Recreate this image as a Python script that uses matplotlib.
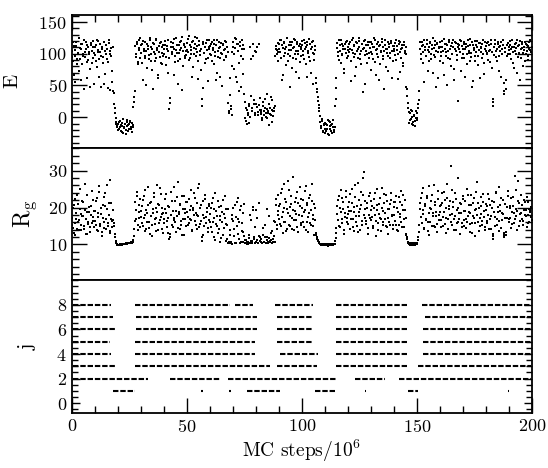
import numpy as np
import matplotlib
matplotlib.use('Agg')
import matplotlib.pyplot as plt
from matplotlib.ticker import MultipleLocator, FixedLocator

plt.rcParams['font.family'] = ['cmr10', 'DejaVu Serif']
plt.rcParams['mathtext.fontset'] = 'cm'
plt.rcParams['axes.formatter.use_mathtext'] = True

# sampling step of the trajectory (MC steps / 10^6); the "b" lists are
# the samples lying half a step after the "a" lists
dt = 0.4

# energy E, one row = 10 units of MC time
E_a = [
    104, 88, 112, 97, 56, 118, 92, 101, 73, 109, 115, 84, 99, 121, 95, 107, 62, 113, 90, 102, 48, 117, 86, 110, 52,
    98, 114, 79, 106, 120, 91, 103, 47, 111, 95, 118, 68, 100, 108, 87, 122, 43, 105, 96, 55, 42, 21, 6, -7, -13,
    -10, -18, -6, -22, -14, -9, -25, -16, -11, -20, -4, -13, -19, -8, -15, -24, -12, 16, 32, 112, 95, 118, 83, 106, 124,
    101, 116, 58, 108, 93, 119, 104, 77, 112, 98, 121, 89, 107, 45, 115, 100, 94, 123, 109, 66, 103, 117, 85, 111, 96,
    108, 120, 95, 112, 70, 104, 13, 31, 118, 99, 110, 123, 87, 106, 114, 52, 101, 119, 92, 109, 126, 81, 113, 97, 105,
    117, 102, 128, 94, 111, 106, 63, 120, 99, 115, 108, 125, 88, 113, 104, 74, 17, 46, 119, 101, 110, 92, 122, 57, 107,
    112, 98, 119, 106, 84, 115, 103, 59, 121, 95, 109, 64, 117, 100, 113, 90, 108, 118, 97, 111, 22, 6, 61, 13, 102,
    118, 76, 109, 123, 55, 104, 115, 42, 112, 96, 121, 68, 107, 24, -6, 11, 3, -9, 18, 110, 33, 9, 96, 21, 4,
    102, 16, 8, 116, 31, 5, 12, -2, 24, 9, 14, 1, 37, 7, -13, 15, 4, 11, 27, 2, 10, 96, 112, 106, 89,
    115, 103, 121, 58, 109, 97, 118, 107, 82, 124, 100, 113, 47, 106, 119, 94, 110, 122, 71, 104, 116, 99, 112, 87, 108,
    120, 105, 92, 117, 110, 64, 114, 101, 123, 88, 108, 118, 53, 99, 112, 61, 44, 32, 19, 9, -8, -17, -3, -22, -12,
    -25, -10, -19, -5, -28, -14, -7, -21, -11, -16, -24, 17, 46, 109, 96, 121, 104, 85, 116, 100, 112, 69, 107, 119, 93,
    111, 102, 118, 57, 106, 124, 95, 113, 100, 79, 117, 108, 120, 91, 104, 115, 40, 109, 98, 122, 105, 86, 114, 101, 119,
    103, 116, 92, 110, 121, 67, 107, 99, 118, 112, 84, 105, 123, 96, 45, 114, 108, 101, 119, 73, 110, 94, 117, 104, 88,
    112, 98, 121, 106, 60, 115, 102, 118, 94, 109, 81, 113, 105, 99, 44, 23, 8, -4, 12, -11, 1, -7, 4, -14, -1,
    6, 15, 27, 108, 92, 119, 103, 114, 56, 111, 97, 122, 106, 88, 117, 100, 113, 70, 109, 120, 95, 105, 116, 62, 110,
    118, 102, 111, 85, 123, 107, 96, 115, 50, 104, 119, 91, 112, 100, 121, 76, 108, 117, 98, 110, 26, 113, 103, 120, 94,
    107, 116, 64, 111, 99, 122, 105, 88, 114, 101, 118, 57, 109, 96, 113, 120, 82, 106, 117, 103, 110, 93, 121, 68, 108,
    112, 99, 118, 104, 87, 115, 102, 18, 29, 110, 121, 95, 108, 116, 73, 105, 119, 100, 113, 54, 36, 109, 44, 97, 117,
    106, 120, 92, 111, 103, 78, 116, 100, 109, 122, 95, 113, 59, 107, 118, 101, 110, 88, 115, 104, 112, 97, 119, 106, 102,
]
E_b = [
    95, 118, 67, 106, 112, 83, 100, 124, 91, 58, 108, 116, 97, 44, 103, 119, 87, 111, 99, 76, 114, 105, 93, 120, 101,
    110, 89, 121, 102, 64, 116, 96, 107, 85, 119, 53, 104, 113, 92, 46, 117, 100, 109, 72, 111, 38, 14, -2, -11, -16,
    -20, -7, -15, -12, -23, -3, -17, -10, -26, -14, -8, -21, -11, -6, -18, -9, -15, 24, 41, 99, 116, 87, 109, 121, 94,
    113, 86, 120, 104, 97, 51, 115, 108, 92, 125, 99, 110, 74, 117, 103, 88, 122, 106, 61, 112, 95, 119, 101, 83, 114,
    99, 114, 82, 107, 121, 94, 22, 110, 103, 117, 66, 108, 96, 125, 101, 89, 113, 106, 120, 43, 104, 116, 93, 111, 98,
    106, 123, 90, 114, 100, 118, 79, 109, 127, 96, 112, 103, 60, 120, 98, 108, 28, 115, 101, 85, 117, 106, 94, 121, 110,
    100, 116, 88, 109, 122, 97, 113, 70, 104, 118, 93, 111, 101, 49, 115, 106, 120, 95, 110, 103, 9, 35, 17, 80, 3,
    111, 99, 124, 63, 116, 105, 85, 119, 48, 108, 114, 91, 36, -2, 15, -10, 7, 20, 1, 92, 14, 116, 27, 6, 104,
    21, 110, 3, 19, 12, 8, -5, 17, 3, 29, 6, 13, -1, 10, 21, 5, 32, -8, 9, 14, 18, 108, 99, 117, 103,
    108, 121, 94, 113, 66, 117, 101, 110, 125, 89, 106, 119, 97, 114, 78, 109, 123, 100, 92, 118, 105, 61, 115, 111, 96,
    113, 98, 122, 107, 84, 118, 104, 95, 116, 70, 111, 101, 120, 90, 106, 54, 39, 25, 14, 2, -14, -6, -24, -11, -19,
    -9, -22, -13, -27, -6, -18, -12, -25, -4, -20, -15, 29, 62, 117, 103, 90, 113, 122, 98, 108, 76, 115, 101, 120, 106,
    97, 115, 108, 88, 121, 101, 112, 65, 118, 105, 94, 124, 110, 99, 83, 116, 107, 120, 52, 113, 100, 118, 93, 109, 74,
    118, 100, 111, 124, 87, 106, 116, 95, 58, 113, 102, 119, 91, 110, 105, 122, 79, 108, 97, 115, 101, 120, 62, 112, 107,
    104, 117, 90, 112, 99, 120, 71, 108, 114, 86, 118, 101, 110, 48, 34, 14, -9, 6, -3, 10, -12, 2, -6, 9, -2,
    -4, 20, 41, 118, 100, 112, 85, 121, 106, 96, 116, 73, 110, 103, 119, 91, 107, 124, 98, 113, 48, 117, 102, 109, 89,
    111, 97, 120, 105, 66, 116, 102, 113, 93, 122, 108, 81, 117, 99, 110, 58, 119, 104, 90, 115, 107, 121, 72, 112, 100,
    119, 93, 108, 116, 84, 112, 101, 123, 95, 47, 114, 106, 89, 120, 103, 110, 97, 117, 61, 109, 115, 100, 86, 118, 105,
    101, 117, 90, 113, 106, 121, 77, 24, 98, 115, 104, 88, 119, 110, 96, 112, 64, 108, 122, 41, 102, 58, 114, 99, 111,
    114, 99, 108, 121, 86, 110, 104, 117, 69, 112, 101, 120, 94, 109, 115, 80, 106, 118, 100, 113, 90, 107, 121, 103, 111,
]

# radius of gyration, same sampling
Rg_a = [
    17.2, 14.5, 20.8, 15.9, 12.6, 18.4, 23.5, 16.1, 13.8, 19.7, 15.2, 21.9, 17.6, 14.1, 26.3, 16.8, 12.9, 18.9, 15.5, 20.2, 13.4, 17.9, 24.6, 16.4, 14.8,
    19.1, 15.3, 22.7, 13.6, 17.4, 25.8, 14.9, 18.2, 12.4, 20.6, 16.0, 23.9, 14.3, 19.5, 15.8, 21.3, 27.4, 13.1, 17.0, 14.6, 16.5, 15.7, 12.0, 10.5, 10.2,
    9.8, 9.9, 9.8, 10.0, 9.9, 10.1, 10.0, 10.2, 10.1, 10.3, 10.2, 10.4, 10.3, 10.5, 10.4, 10.6, 10.7, 11.3, 14.2, 21.5, 16.8, 24.1, 13.9, 18.7, 22.4,
    17.5, 20.3, 15.1, 23.2, 18.0, 13.7, 19.4, 16.2, 25.6, 14.4, 21.1, 17.8, 12.3, 18.6, 22.9, 15.6, 19.9, 17.1, 26.1, 14.0, 20.7, 16.6, 23.6, 18.3, 13.2,
    16.9, 22.2, 18.5, 14.7, 20.4, 17.3, 11.4, 12.8, 24.3, 15.4, 19.0, 16.5, 21.7, 13.5, 17.7, 26.8, 18.8, 14.2, 20.9, 16.3, 23.0, 17.0, 12.7, 19.6, 15.0,
    21.4, 17.4, 15.7, 19.3, 24.8, 16.7, 13.9, 20.0, 18.1, 22.6, 15.3, 17.9, 25.2, 14.6, 19.8, 16.4, 11.0, 12.5, 21.8, 17.2, 23.4, 15.9, 18.7, 13.3, 20.5,
    18.2, 14.8, 21.2, 16.0, 12.1, 19.5, 23.8, 15.5, 17.6, 13.0, 20.1, 16.6, 11.8, 18.9, 22.0, 14.5, 17.1, 10.9, 19.7, 15.2, 10.5, 10.3, 14.0, 10.8, 18.0,
    16.3, 12.2, 20.6, 10.4, 14.9, 22.5, 17.0, 11.6, 19.2, 10.7, 15.8, 13.4, 21.0, 11.2, 10.3, 10.6, 10.2, 11.8, 10.4, 18.1, 11.0, 10.4, 20.1, 12.1, 10.5,
    19.3, 11.1, 10.5, 21.2, 12.0, 10.6, 11.5, 10.3, 12.7, 10.8, 15.4, 10.4, 11.9, 10.6, 17.8, 10.9, 11.3, 10.5, 13.6, 10.7, 12.2, 16.1, 22.3, 14.2, 19.0,
    20.4, 15.6, 23.9, 17.5, 13.2, 19.8, 26.4, 16.2, 21.5, 14.3, 18.6, 24.7, 15.0, 20.9, 17.3, 28.2, 13.8, 19.1, 22.6, 16.7, 14.7, 21.3, 18.0, 25.5, 15.9,
    17.8, 22.1, 14.6, 19.4, 25.9, 16.1, 20.7, 13.4, 18.4, 23.3, 15.3, 21.8, 17.0, 12.6, 19.9, 13.1, 12.0, 11.2, 10.6, 10.3, 10.0, 9.9, 10.1, 9.8, 10.0,
    9.9, 9.8, 10.0, 9.7, 9.9, 10.1, 9.8, 10.0, 10.2, 9.9, 10.1, 11.0, 13.1, 20.3, 16.5, 23.1, 14.8, 18.9, 22.7, 15.7, 19.6, 12.8, 17.4, 24.4, 16.0,
    18.3, 21.6, 14.2, 19.0, 25.1, 16.9, 20.2, 13.6, 22.8, 17.6, 15.1, 26.7, 18.8, 14.0, 20.8, 16.3, 23.5, 29.7, 17.2, 19.7, 15.5, 21.1, 12.9, 18.1, 24.0,
    16.6, 20.5, 14.4, 22.3, 17.9, 12.4, 19.3, 24.9, 15.8, 21.0, 17.1, 13.7, 20.0, 16.2, 23.7, 18.5, 14.9, 21.7, 17.3, 12.8, 19.5, 15.4, 22.0, 18.0, 14.1,
    20.1, 16.4, 23.2, 13.9, 18.7, 15.2, 21.4, 17.5, 24.6, 14.6, 19.2, 16.8, 22.1, 12.7, 12.1, 10.8, 10.1, 9.9, 10.2, 10.0, 10.3, 9.9, 10.1, 10.4, 10.0,
    10.2, 11.1, 13.3, 19.6, 22.7, 15.9, 18.2, 25.3, 14.3, 20.4, 17.0, 23.0, 16.1, 12.6, 19.9, 21.9, 15.0, 18.6, 26.2, 14.7, 20.8, 17.7, 13.5, 22.4, 16.5,
    18.9, 14.8, 21.2, 17.4, 24.1, 15.6, 19.8, 13.0, 22.5, 16.9, 20.3, 18.1, 31.3, 15.3, 21.6, 17.0, 23.8, 14.0, 19.4, 16.2, 28.0, 18.5, 12.9, 20.9, 15.8,
    22.2, 16.7, 19.1, 14.5, 25.0, 17.8, 20.6, 13.4, 18.4, 23.4, 15.7, 21.3, 17.2, 12.3, 19.7, 26.9, 16.0, 20.0, 14.9, 22.9, 18.2, 15.4, 21.5, 17.5, 13.8,
    19.3, 16.3, 23.6, 14.2, 20.7, 17.6, 21.8, 11.6, 12.9, 18.8, 15.1, 24.3, 17.0, 20.2, 13.7, 19.0, 22.6, 16.6, 18.3, 12.6, 11.9, 21.0, 13.4, 17.3, 23.1,
    16.8, 20.5, 14.4, 18.9, 22.8, 15.9, 28.6, 17.7, 19.6, 13.9, 27.3, 21.1, 16.4, 18.6, 20.8, 15.2, 22.1, 17.9, 19.4, 14.8, 18.0, 21.6, 16.1, 19.2, 17.4,
]
Rg_b = [
    15.4, 19.8, 13.2, 22.4, 17.0, 14.2, 20.9, 16.6, 25.1, 18.3, 13.9, 17.7, 21.4, 15.0, 19.2, 12.8, 23.3, 16.2, 18.7, 14.7, 20.5, 15.8, 17.4, 22.0, 19.0,
    16.3, 21.7, 14.0, 18.6, 24.3, 15.6, 19.9, 13.3, 17.1, 22.9, 14.5, 20.3, 16.9, 26.0, 15.1, 18.0, 13.7, 21.2, 16.4, 19.4, 15.0, 12.8, 11.0, 10.3, 9.9,
    9.9, 9.8, 10.0, 9.9, 10.1, 10.0, 10.1, 10.2, 10.0, 10.3, 10.2, 10.3, 10.5, 10.4, 10.6, 10.5, 10.8, 12.2, 16.4, 19.3, 23.2, 15.4, 20.6, 17.3, 14.6,
    19.1, 15.7, 22.0, 17.2, 24.7, 14.1, 18.4, 20.8, 16.0, 12.9, 21.6, 17.6, 15.2, 19.6, 23.8, 16.8, 13.6, 18.9, 21.0, 15.9, 25.2, 17.4, 14.3, 20.0, 18.6,
    15.8, 19.5, 23.7, 16.4, 13.1, 20.2, 12.0, 18.0, 21.9, 14.8, 17.3, 25.6, 16.1, 19.0, 22.8, 14.4, 18.2, 20.6, 15.3, 12.5, 19.7, 23.1, 16.8, 18.4, 21.5,
    18.9, 15.2, 22.4, 17.0, 20.3, 13.6, 19.4, 24.0, 16.3, 18.5, 21.2, 14.1, 17.8, 26.5, 15.5, 20.6, 12.1, 18.1, 15.0, 22.2, 17.5, 19.8, 14.4, 21.0, 16.7,
    16.0, 20.0, 13.5, 22.6, 17.3, 11.2, 19.1, 15.0, 21.7, 14.2, 17.8, 10.6, 20.4, 16.2, 12.7, 18.3, 23.0, 15.6, 11.5, 19.5, 10.6, 12.5, 10.4, 16.8, 10.2,
    19.8, 14.1, 10.5, 17.5, 21.6, 12.9, 16.0, 10.3, 20.3, 13.7, 18.4, 10.8, 12.4, 10.4, 11.3, 10.2, 10.7, 12.6, 10.3, 16.6, 10.9, 19.4, 11.4, 10.3, 14.8,
    10.6, 17.2, 10.4, 12.3, 10.9, 11.6, 10.3, 14.5, 10.7, 12.1, 10.5, 11.2, 19.6, 10.4, 11.7, 10.8, 13.0, 10.3, 11.4, 16.3, 10.6, 20.8, 15.2, 18.1, 23.5,
    17.0, 21.0, 14.9, 25.0, 18.8, 16.0, 22.2, 13.6, 19.5, 27.1, 15.3, 20.1, 17.7, 23.2, 14.1, 19.2, 16.5, 21.6, 18.3, 24.2, 13.3, 17.9, 20.5, 15.4, 22.4,
    20.0, 16.2, 18.9, 24.5, 14.0, 21.2, 17.4, 22.7, 15.7, 19.3, 26.3, 14.9, 18.1, 21.0, 16.6, 12.6, 11.6, 10.9, 10.4, 10.1, 9.9, 10.0, 9.8, 10.1, 9.9,
    10.0, 9.8, 9.9, 10.1, 9.8, 10.0, 9.9, 10.1, 9.8, 10.0, 10.2, 11.8, 14.5, 18.2, 22.0, 15.1, 19.9, 24.8, 16.9, 21.4, 14.0, 18.6, 22.9, 17.1, 20.2,
    15.6, 19.1, 23.6, 17.0, 21.3, 14.6, 18.7, 26.0, 16.1, 20.4, 13.4, 22.1, 17.8, 19.6, 24.3, 15.3, 27.9, 18.0, 21.9, 16.4, 20.0, 14.4, 23.0, 17.3, 19.2,
    21.8, 17.4, 15.0, 19.8, 23.9, 16.3, 20.7, 14.0, 18.2, 22.5, 16.9, 25.4, 19.0, 15.4, 21.2, 17.0, 23.3, 14.6, 19.6, 16.0, 20.9, 24.0, 17.7, 15.2, 21.4,
    17.9, 21.5, 15.3, 19.9, 13.6, 22.8, 18.2, 16.0, 20.6, 23.4, 14.8, 19.4, 17.2, 12.9, 11.5, 10.5, 10.0, 10.3, 9.9, 10.2, 10.1, 10.4, 9.9, 10.2, 10.1,
    10.3, 12.0, 15.2, 21.1, 17.4, 24.0, 19.2, 14.5, 20.9, 16.7, 22.6, 13.7, 18.4, 25.8, 16.0, 19.7, 23.3, 17.6, 14.9, 21.4, 18.9, 15.6, 24.6, 17.9, 20.3,
    16.5, 20.7, 23.9, 15.1, 18.7, 22.0, 17.1, 26.4, 14.3, 19.6, 21.8, 16.0, 18.3, 24.7, 20.1, 13.8, 17.8, 22.4, 15.8, 19.9, 16.9, 21.3, 18.6, 14.6, 23.0,
    19.0, 14.9, 21.9, 17.0, 16.2, 23.5, 18.8, 15.5, 20.8, 13.2, 17.6, 22.7, 19.4, 15.9, 24.1, 18.0, 21.2, 13.7, 17.3, 20.4, 16.4, 23.7, 19.1, 14.8, 21.0,
    15.7, 20.5, 18.1, 22.3, 16.8, 14.1, 19.9, 12.2, 21.5, 17.4, 23.8, 15.2, 18.9, 25.6, 16.3, 20.7, 14.5, 18.6, 22.1, 13.2, 17.1, 12.5, 20.2, 24.4, 16.0,
    19.8, 17.3, 22.6, 15.6, 20.3, 18.4, 16.9, 24.8, 19.0, 21.7, 15.1, 18.2, 23.4, 17.0, 20.6, 16.4, 19.3, 21.4, 17.6, 22.8, 15.9, 19.5, 18.7, 20.1, 16.6,
]

# j panel: time intervals (start, end) during which each level is occupied
j_levels = [8, 7, 6, 5, 4, 3, 2, 1]
j_spans = [
    [(0.5, 17.2), (27.4, 68.7), (70.9, 78.8), (88.3, 105), (115, 145.5), (152, 199.5)],
    [(0.5, 18), (28.1, 80.3), (89, 105), (115, 145.5), (153.5, 199.5)],
    [(0.5, 18.7), (28, 80.3), (89, 105), (115, 145.5), (152.8, 199.5)],
    [(0.5, 16.5), (27.4, 79.5), (89, 105), (115, 145.5), (152.8, 199.5)],
    [(0.5, 17.2), (27.4, 79.5), (90.4, 107), (115, 145.5), (152.8, 199.5)],
    [(0.5, 18.7), (27.4, 86), (89, 106.4), (115, 145.5), (150.6, 199.5)],
    [(0.5, 33.3), (42.6, 64.3), (68, 115), (123, 136), (142, 199.5)],
    [(18, 27.4), (56.2, 56.8), (68.5, 69.1), (76, 90.4), (105.7, 114.4), (127.2, 127.8), (146.2, 150.6), (189.5, 190.1)],
]

t_a = np.arange(len(E_a)) * dt
t_b = np.arange(len(E_b)) * dt + dt / 2
tr_a = np.arange(len(Rg_a)) * dt
tr_b = np.arange(len(Rg_b)) * dt + dt / 2

fig, axes = plt.subplots(3, 1, sharex=True, figsize=(5.48, 4.68), dpi=100,
                         gridspec_kw={'hspace': 0})
fig.subplots_adjust(left=0.131, right=0.971, top=0.968, bottom=0.1175)
ax1, ax2, ax3 = axes

ax1.plot(t_a, E_a, 's', color='k', ms=1.8, mew=0)
ax1.plot(t_b, E_b, 's', color='k', ms=1.8, mew=0)
ax2.plot(tr_a, Rg_a, 's', color='k', ms=1.8, mew=0)
ax2.plot(tr_b, Rg_b, 's', color='k', ms=1.8, mew=0)
for lev, spans in zip(j_levels, j_spans):
    for a, b in spans:
        ax3.hlines(lev, a, b, colors='k', linewidth=1.5, linestyles=(0, (2.6, 0.9)))

ax1.set_ylim(-48, 161)
ax2.set_ylim(0.3, 36.2)
ax3.set_ylim(-0.8, 10)
ax3.set_xlim(0, 200)

ax1.yaxis.set_major_locator(FixedLocator([0, 50, 100, 150]))
ax1.yaxis.set_minor_locator(MultipleLocator(10))
ax2.yaxis.set_major_locator(FixedLocator([10, 20, 30]))
ax2.yaxis.set_minor_locator(MultipleLocator(2))
ax3.yaxis.set_major_locator(FixedLocator([0, 2, 4, 6, 8]))
ax3.yaxis.set_minor_locator(MultipleLocator(0.5))
ax3.xaxis.set_major_locator(MultipleLocator(50))
ax3.xaxis.set_minor_locator(MultipleLocator(10))

for ax in axes:
    for s in ax.spines.values():
        s.set_linewidth(1.3)
    ax.tick_params(which='both', direction='in', left=True, right=True,
                   top=False, bottom=False, labelsize=13, width=1.0)
    ax.tick_params(which='major', length=11)
    ax.tick_params(which='minor', length=5)
ax1.tick_params(axis='x', which='both', top=True)
ax3.tick_params(axis='x', which='both', bottom=True)
ax3.tick_params(axis='y', which='major', length=6)
ax3.tick_params(axis='y', which='minor', length=4)

ax1.set_ylabel('E', fontsize=15, labelpad=12)
ax2.set_ylabel(r'$\mathrm{R}_\mathrm{g}$', fontsize=17, labelpad=6)
ax3.set_ylabel('j', fontsize=15, labelpad=14)
ax3.set_xlabel(r'MC steps/$10^6$', fontsize=14, labelpad=2)

fig.savefig('out.png', dpi=100)
